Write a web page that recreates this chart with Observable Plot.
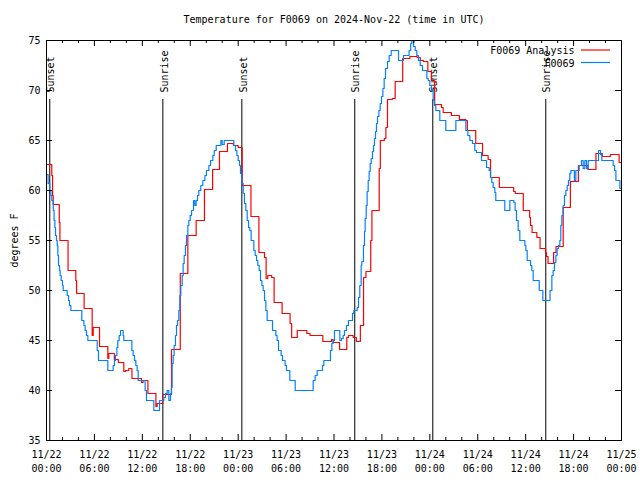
<!DOCTYPE html>
<html><head><meta charset="utf-8">
<script src="https://cdn.jsdelivr.net/npm/d3@7"></script>
<script src="https://cdn.jsdelivr.net/npm/@observablehq/plot@0.6"></script>
<style>body{margin:0;background:#fff}</style>
</head><body><div id="chart"></div>
<script>
const titleText = "Temperature for F0069 on 2024-Nov-22 (time in UTC)";
const yLabel = "degrees F";
const seriesNames = ["F0069 Analysis", "F0069"];
const seriesColors = ["#ff0000", "#0080ff"];
const startTime = Date.UTC(2024, 10, 22, 0, 0);
const domainHours = [0, 72];
const yDomain = [35, 75];
const yTicks = [35, 40, 45, 50, 55, 60, 65, 70, 75];
const majorTickHours = [0, 6, 12, 18, 24, 30, 36, 42, 48, 54, 60, 66, 72];
const minorTickHours = [2, 4, 8, 10, 14, 16, 20, 22, 26, 28, 32, 34, 38, 40, 44, 46, 50, 52, 56, 58, 62, 64, 68, 70];

// Analysis (red), hours since 11/22 00:00 UTC
const redHours = [0, 0.66, 0.76, 0.84, 1.6, 1.68, 2.7, 3.67, 3.77, 4.71, 5.72, 5.85, 6.64, 7.68, 7.8, 8.5, 9.0, 9.68, 9.9, 10.3,
  10.7, 11.9, 12.1, 12.7, 13.7, 13.85, 14.57, 15.65, 16.75, 17.7, 18.74, 19.78, 20.8, 21.66, 22.66, 23.4, 24.0, 24.5, 25.6, 26.6,
  27.3, 27.5, 27.7, 28.2, 28.5, 29.5, 30.5, 30.7, 31.4, 32.6, 33.0, 34.6, 35.7, 35.9, 36.7, 37.6, 37.8, 38.4, 38.8, 39.3,
  39.7, 40.0, 40.6, 40.75, 41.66, 41.8, 42.3, 42.5, 42.7, 43.3, 43.66, 44.6, 45.5, 46.4, 46.8, 47.2, 47.75, 48.2, 48.6, 49.46,
  49.67, 50.7, 51.7, 52.5, 52.7, 53.75, 54.6, 55.3, 55.6, 56.7, 58.5, 58.7, 59.7, 60.5, 60.6, 60.8, 61.4, 61.8, 62.5, 62.6,
  62.8, 63.5, 63.8, 64.7, 65.6, 66.6, 67.8, 68.8, 69.6, 70.6, 71.7, 72];
const redTemps = [62.6, 61.5, 59.5, 58.6, 56.8, 55.0, 52.0, 51.0, 49.7, 48.2, 45.5, 46.3, 44.4, 43.2, 43.7, 43.1, 42.8, 41.9, 42.0, 42.2,
  41.2, 40.8, 41.0, 39.7, 38.4, 38.7, 39.6, 44.1, 51.7, 55.5, 57.0, 60.1, 62.1, 63.9, 64.7, 64.5, 64.3, 60.5, 57.4, 53.8,
  53.3, 51.2, 51.5, 51.3, 48.8, 47.7, 46.7, 45.3, 46.0, 45.7, 45.5, 44.9, 45.1, 44.8, 44.1, 45.3, 45.5, 45.3, 44.9, 46.5,
  51.3, 51.9, 55.0, 58.0, 62.2, 65.0, 65.2, 66.3, 69.1, 69.2, 70.9, 73.2, 73.4, 73.3, 73.0, 72.9, 71.9, 71.0, 68.6, 68.3,
  67.8, 67.5, 67.1, 67.0, 66.0, 64.7, 63.5, 63.1, 61.3, 60.3, 59.9, 59.7, 58.0, 57.3, 56.5, 55.8, 55.3, 54.2, 53.8, 53.4,
  52.7, 53.8, 54.4, 58.3, 60.9, 62.5, 62.1, 63.7, 63.4, 63.6, 62.8, 62.8];

// Observations (blue)
const blueHours = [0, 0.2, 0.4, 0.55, 0.67, 0.85, 0.95, 1.05, 1.13, 1.25, 1.34, 1.42, 1.5, 1.63, 1.71, 1.84, 2.0, 2.09, 2.59, 2.76,
  2.88, 3.05, 4.42, 4.68, 4.84, 5.01, 5.18, 6.35, 6.51, 7.68, 8.35, 8.51, 8.64, 8.81, 8.93, 9.1, 9.27, 9.6, 9.68, 10.69,
  10.85, 11.02, 11.19, 11.35, 11.48, 12.35, 12.52, 13.44, 14.15, 14.69, 14.9, 15.11, 15.32, 15.53, 15.65, 15.73, 15.86, 15.98, 16.15, 16.28,
  16.41, 16.57, 16.7, 16.82, 16.99, 17.11, 17.24, 17.4, 17.53, 17.7, 17.82, 17.99, 18.16, 18.41, 18.57, 18.74, 18.91, 19.07, 19.32, 19.57,
  19.83, 20.03, 20.33, 20.54, 20.83, 21.0, 21.25, 21.83, 22.0, 22.25, 23.46, 23.67, 23.84, 24.0, 24.17, 24.29, 24.46, 24.63, 24.79, 24.96,
  25.13, 25.3, 25.46, 25.63, 25.96, 26.13, 26.3, 26.46, 26.63, 26.8, 26.97, 27.13, 27.3, 27.47, 27.63, 28.3, 28.72, 28.88, 29.05, 29.38,
  29.55, 29.88, 30.05, 30.47, 31.14, 33.39, 33.64, 33.89, 34.56, 34.73, 35.56, 35.73, 35.9, 36.06, 36.73, 36.94, 37.15, 37.31, 37.56, 37.81,
  38.32, 38.48, 38.9, 39.07, 39.23, 39.4, 39.48, 39.69, 39.82, 39.9, 40.03, 40.15, 40.28, 40.4, 40.53, 40.66, 40.82, 40.95, 41.07, 41.2,
  41.32, 41.45, 41.62, 41.78, 41.95, 42.12, 42.28, 42.45, 42.7, 42.91, 43.16, 44.08, 44.7, 45.4, 45.6, 45.75, 45.96, 46.17, 46.37, 46.58,
  46.79, 47.08, 47.63, 47.79, 48.0, 48.21, 48.42, 48.58, 48.75, 49.25, 50.0, 51.26, 52.51, 52.76, 53.01, 53.34, 53.63, 53.84, 54.47, 55.1,
  55.43, 55.6, 55.76, 55.93, 56.14, 56.26, 57.39, 58.02, 58.52, 58.68, 58.85, 59.06, 59.27, 59.9, 60.02, 60.19, 60.61, 60.77, 60.94, 61.7,
  62.15, 63.05, 63.28, 63.44, 63.61, 63.78, 63.94, 64.11, 64.28, 64.4, 64.53, 64.69, 64.86, 65.03, 65.2, 65.36, 65.53, 65.66, 66.1, 66.28,
  66.7, 66.99, 67.2, 67.41, 67.62, 67.83, 69.12, 69.37, 69.54, 70.96, 71.13, 71.3, 71.8, 72];
const blueTemps = [61.6, 60.7, 60.0, 59.5, 59.0, 58.0, 57.0, 56.3, 55.5, 55.0, 54.5, 53.5, 52.5, 52.0, 51.5, 51.0, 50.5, 50.0, 49.5, 49.0,
  48.5, 48.0, 47.0, 46.5, 46.0, 45.5, 45.0, 44.0, 43.0, 42.0, 42.5, 43.0, 43.5, 44.3, 45.0, 45.5, 46.0, 45.5, 45.0, 44.0,
  43.5, 43.0, 42.5, 42.0, 41.0, 40.0, 39.0, 38.0, 39.0, 39.3, 39.7, 40.0, 39.0, 39.7, 40.3, 42.7, 43.5, 44.5, 45.5, 46.5,
  47.0, 48.0, 49.5, 50.5, 51.5, 52.7, 53.5, 54.5, 55.5, 56.5, 57.0, 57.5, 58.0, 59.0, 58.5, 59.0, 59.5, 60.0, 60.5, 61.0,
  61.5, 62.0, 62.5, 63.0, 63.5, 64.0, 64.5, 65.0, 64.6, 65.0, 64.5, 64.0, 63.5, 63.0, 62.5, 61.7, 60.7, 59.7, 58.7, 58.0,
  57.0, 56.3, 56.0, 55.0, 54.0, 53.5, 53.0, 52.5, 52.0, 51.0, 50.5, 50.0, 49.0, 48.0, 47.0, 46.0, 45.5, 45.0, 44.0, 43.5,
  43.0, 42.5, 42.0, 41.0, 40.0, 41.0, 41.5, 42.0, 42.5, 43.0, 44.0, 44.7, 45.0, 46.0, 45.0, 45.2, 45.5, 46.0, 46.5, 47.0,
  47.7, 48.0, 48.3, 49.3, 50.5, 52.5, 52.9, 54.5, 55.9, 57.2, 58.5, 59.9, 61.0, 61.9, 62.7, 63.2, 63.9, 64.5, 65.2, 65.9,
  66.7, 67.4, 68.0, 68.7, 69.4, 70.2, 71.2, 72.2, 72.9, 73.5, 74.0, 73.0, 73.5, 74.0, 74.7, 75.0, 74.4, 74.0, 73.5, 73.0,
  72.5, 72.0, 71.2, 71.0, 70.5, 70.0, 69.0, 68.5, 68.0, 67.0, 66.0, 67.0, 66.0, 65.5, 65.0, 64.7, 64.0, 63.8, 63.0, 62.3,
  62.0, 61.3, 60.8, 60.3, 59.8, 59.0, 58.0, 59.0, 58.8, 58.0, 57.0, 56.0, 55.0, 54.5, 54.0, 53.0, 52.5, 52.0, 51.0, 50.0,
  49.0, 50.0, 51.5, 52.0, 52.8, 53.5, 54.2, 54.5, 55.0, 56.5, 57.5, 58.5, 59.5, 60.0, 60.5, 61.0, 61.7, 62.0, 61.0, 62.0,
  62.5, 63.0, 62.2, 63.0, 62.2, 63.0, 64.0, 63.6, 63.0, 62.5, 62.0, 61.0, 60.2, 60.2];

const sunHours = [0.41, 14.57, 24.46, 38.6, 48.37, 62.52];
const sunLabels = ["Sunset", "Sunrise", "Sunset", "Sunrise", "Sunset", "Sunrise"];
const sunLineTop = 69.1;
const sunLabelY = 69.8;

const toDate = h => new Date(startTime + h * 3600e3);
const red = redHours.map((h, i) => ({t: toDate(h), v: redTemps[i]}));
const blue = blueHours.map((h, i) => ({t: toDate(h), v: blueTemps[i]}));
const sun = sunHours.map((h, i) => ({t: toDate(h), label: sunLabels[i]}));
const majors = majorTickHours.map(toDate);
const minors = minorTickHours.map(toDate);
const fmt = d3.utcFormat("%m/%d\n%H:%M");

const W = 640, H = 480, mL = 46, mR = 19, mT = 40, mB = 40;
const fw = W - mL - mR, fh = H - mT - mB;

const chart = Plot.plot({
  width: W, height: H,
  marginLeft: mL, marginRight: mR, marginTop: mT, marginBottom: mB,
  style: {fontFamily: "'DejaVu Sans Mono', monospace", fontSize: "10px", background: "#fff", color: "#000"},
  x: {type: "utc", domain: domainHours.map(toDate)},
  y: {domain: yDomain},
  marks: [
    Plot.text(sun, {x: "t", y: sunLabelY, text: "label", rotate: -90, textAnchor: "start", lineAnchor: "middle", dx: 1.5, fill: "#000"}),
    Plot.ruleX(sun, {x: "t", y1: yDomain[0], y2: sunLineTop, stroke: "#000", strokeWidth: 1}),
    Plot.line(red, {x: "t", y: "v", stroke: seriesColors[0], strokeWidth: 1.2, curve: "step-after"}),
    Plot.line(blue, {x: "t", y: "v", stroke: seriesColors[1], strokeWidth: 1.2, curve: "step-after"}),
    Plot.frame({stroke: "#000", strokeWidth: 1}),
    Plot.tickX(majors, {x: d => d, insetTop: fh - 6, stroke: "#000"}),
    Plot.tickX(majors, {x: d => d, insetBottom: fh - 6, stroke: "#000"}),
    Plot.tickX(minors, {x: d => d, insetTop: fh - 3, stroke: "#000"}),
    Plot.tickX(minors, {x: d => d, insetBottom: fh - 3, stroke: "#000"}),
    Plot.tickY(yTicks, {y: d => d, insetRight: fw - 6, stroke: "#000"}),
    Plot.tickY(yTicks, {y: d => d, insetLeft: fw - 6, stroke: "#000"}),
    Plot.axisX({ticks: majors, tickSize: 0, tickPadding: 8, tickFormat: fmt, lineHeight: 1.4, label: null}),
    Plot.axisY({ticks: yTicks, tickSize: 0, tickPadding: 6, label: yLabel, labelAnchor: "center", labelArrow: "none", labelOffset: 36}),
    Plot.text([titleText], {frameAnchor: "top", dy: -21, lineAnchor: "middle", fill: "#000"}),
    Plot.text([seriesNames[0]], {frameAnchor: "top-right", dx: -47, dy: 10, textAnchor: "end", lineAnchor: "middle", fill: "#000"}),
    Plot.text([seriesNames[1]], {frameAnchor: "top-right", dx: -47, dy: 23, textAnchor: "end", lineAnchor: "middle", fill: "#000"}),
    Plot.ruleY([seriesNames[0]], {y: null, insetLeft: fw - 40, insetRight: 11, dy: -190.5, stroke: seriesColors[0], strokeWidth: 1.2}),
    Plot.ruleY([seriesNames[1]], {y: null, insetLeft: fw - 40, insetRight: 11, dy: -178, stroke: seriesColors[1], strokeWidth: 1.2})
  ]
});
document.getElementById("chart").appendChild(chart);
</script>
</body></html>
